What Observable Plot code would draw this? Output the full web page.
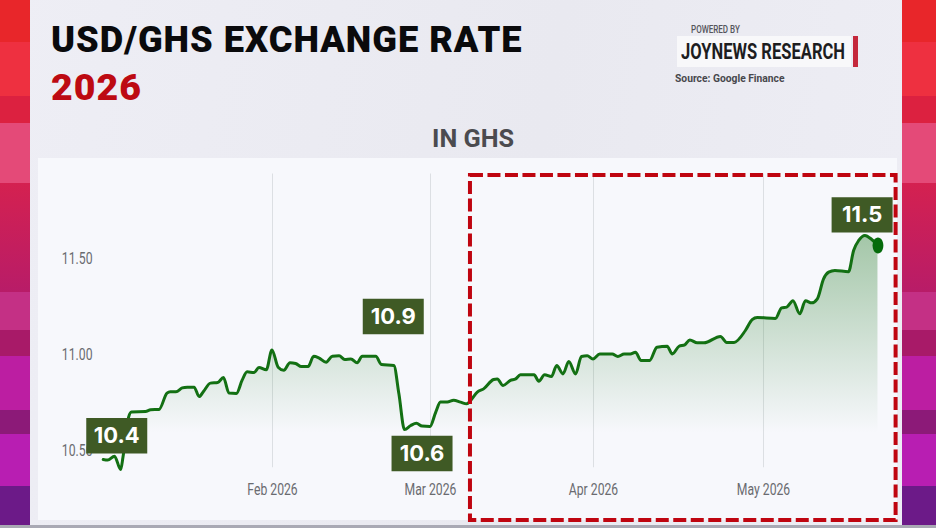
<!DOCTYPE html>
<html><head><meta charset="utf-8">
<script src="https://cdn.jsdelivr.net/npm/d3@7"></script>
<script src="https://cdn.jsdelivr.net/npm/@observablehq/plot@0.6"></script>
<style>
html,body{margin:0;padding:0;width:936px;height:528px;overflow:hidden;background:#ededf4;}
#stage{position:relative;width:936px;height:528px;overflow:hidden;background:linear-gradient(100deg,#eeeef5,#e9e9f0 55%,#eeeef5);}
#stage>div{position:absolute;}
.band{position:absolute;}
.fit{transform-origin:0 50%;white-space:nowrap;}
#plot svg{display:block;background:transparent;}
</style></head><body>
<div id="stage">
  <div id="bandL" style="left:0;top:0;width:30px;height:528px"></div>
  <div id="bandR" style="left:902px;top:0;width:34px;height:528px"></div>
  <div style="left:0;top:525px;width:936px;height:3px;background:#a9a9b4"></div>
  <div style="left:38px;top:158px;width:859px;height:362px;background:#f7f8fc"></div>
  <div class="fit" data-w="472" style="left:51px;top:17px;font:900 37.5px/44px Roboto,sans-serif;color:#0a0a0c;letter-spacing:1px">USD/GHS EXCHANGE RATE</div>
  <div class="fit" data-w="91" style="left:51px;top:65px;font:900 37.5px/44px Roboto,sans-serif;color:#bd0a12;letter-spacing:1px">2026</div>
  <div class="fit" data-w="82" style="left:432px;top:122px;font:700 26.5px/32px Roboto,sans-serif;color:#4b4b4f">IN GHS</div>
  <div class="fit" data-w="49" style="left:691px;top:24px;font:500 10px/11px Roboto,sans-serif;color:#55555c">POWERED BY</div>
  <div style="left:677px;top:36px;width:174px;height:31px;background:#f8f8fa"></div>
  <div style="left:853px;top:36px;width:5px;height:31px;background:#c4283c"></div>
  <div class="fit" data-w="164" style="left:681px;top:38px;font:700 21.5px/27px Roboto,sans-serif;color:#1d1d1f">JOYNEWS RESEARCH</div>
  <div class="fit" data-w="110" style="left:675px;top:73px;font:700 10px/12px Roboto,sans-serif;color:#47474c">Source: Google Finance</div>
  <div id="plot" style="left:0;top:0"></div>
</div>
<script>
// Day of 2026 (1 = Jan 1) and USD/GHS rate
const days = [2.0,2.8,4.0,5.1,5.5,6.5,7.0,9.5,10.4,11.9,13.3,13.9,14.9,16.0,16.9,18.1,19.0,19.8,21.0,22.3,23.3,24.3,25.6,26.6,27.5,28.7,29.6,30.9,31.9,33.0,34.0,35.1,36.1,37.1,38.3,39.3,40.2,41.5,42.6,43.8,44.8,45.9,47.0,47.9,50.3,51.3,53.5,54.4,55.4,56.5,57.5,58.5,59.9,61.0,61.9,63.2,64.4,65.7,66.9,67.6,68.9,70.1,72.0,72.7,73.8,75.2,76.2,77.1,79.7,80.6,81.7,83.0,84.0,85.2,86.3,87.6,88.7,89.8,90.9,92.1,94.3,95.3,96.4,97.5,98.4,99.4,100.9,102.2,104.0,104.9,106.1,107.1,108.0,109.3,110.5,113.4,114.5,115.8,117.8,119.0,119.9,123.1,124.2,125.1,126.2,127.4,128.4,129.5,130.5,131.6,132.5,133.6,136.0,136.9,137.8,138.9,140.1,141.2];
const rates = [10.453,10.450,10.470,10.401,10.465,10.674,10.701,10.703,10.712,10.714,10.799,10.806,10.806,10.826,10.830,10.830,10.781,10.809,10.851,10.854,10.880,10.799,10.797,10.865,10.910,10.906,10.932,10.920,11.024,10.934,10.918,10.957,10.953,10.937,10.937,10.991,10.983,10.960,10.991,10.993,10.974,10.977,10.957,10.991,10.991,10.948,10.943,10.795,10.609,10.630,10.642,10.627,10.625,10.700,10.752,10.753,10.762,10.752,10.743,10.760,10.804,10.821,10.870,10.873,10.839,10.865,10.873,10.894,10.894,10.861,10.894,10.885,10.943,10.899,10.964,10.899,10.990,10.993,10.977,11.003,11.003,10.990,11.003,11.003,11.012,10.969,10.969,11.038,11.043,11.003,11.043,11.050,11.076,11.061,11.061,11.094,11.063,11.063,11.125,11.182,11.193,11.188,11.243,11.247,11.280,11.212,11.280,11.269,11.290,11.394,11.429,11.438,11.431,11.542,11.594,11.620,11.599,11.568];
const xTicks = [32,60,91,121];
const xTickLabels = ["Feb 2026","Mar 2026","Apr 2026","May 2026"];
const yTicks = [10.5,11,11.5];
const calloutLabels = ["10.4","10.9","10.6","11.5"];
const calloutDays = [4.4,53.4,58.5,138.4];
const calloutRates = [10.577,11.198,10.484,11.727];
// Left and right decorative stripes
const stripeEnds = [42,96,123,183,292,330,356,410,434,486,525];
const stripeColors = ["#e8262a","#ee3040","#dc2140","#e44a78","linear-gradient(#d42150,#b81c68)","#c43085","#a81a68","#bc1ea2","#8c1a78","#b81eb2","#6c1a88"];

function stripes(el){
  let y0=0; stripeEnds.forEach((y,i)=>{
    const d=document.createElement("div"); d.className="band";
    d.style.cssText=`left:0;right:0;top:${y0}px;height:${y-y0}px;background:${stripeColors[i]}`;
    el.appendChild(d); y0=y;
  });
}
stripes(document.getElementById("bandL"));
stripes(document.getElementById("bandR"));

const series = days.map((d,i)=>({day:d,rate:rates[i]}));
const last = series[series.length-1];
const callouts = calloutLabels.map((t,i)=>({label:t,day:calloutDays[i],rate:calloutRates[i]}));
const areaBase = 10.59;
const gridTop = 11.94, gridBottom = 10.41, boxTop = 11.932, boxBottom = 10.135, boxLeft = 67.6, boxRight = 144.4;

const boxSymbol = {draw(c){c.rect(-30.5,-17.7,61,35.4);}};
const ovalSymbol = {draw(c){
  const a=5.4,b=8,k=.5523;
  c.moveTo(a,0);
  c.bezierCurveTo(a,k*b,k*a,b,0,b);c.bezierCurveTo(-k*a,b,-a,k*b,-a,0);
  c.bezierCurveTo(-a,-k*b,-k*a,-b,0,-b);c.bezierCurveTo(k*a,-b,a,-k*b,a,0);c.closePath();
}};
const gradient = () => {
  const s=d3.create("svg:defs");
  const g=s.append("linearGradient").attr("id","fade").attr("x1",0).attr("x2",0).attr("y1",0).attr("y2",1);
  g.append("stop").attr("offset","0%").attr("stop-color","#0f6e12").attr("stop-opacity",.36);
  g.append("stop").attr("offset","100%").attr("stop-color","#0f6e12").attr("stop-opacity",0);
  return s.node();
};
const axisFont = "Roboto,sans-serif";

const chart = Plot.plot({
  width:936,height:528,
  marginLeft:95,marginBottom:50,marginTop:0,marginRight:0,
  style:{background:"transparent",overflow:"visible"},
  x:{type:"linear",domain:xTicks,range:[272,430,593,763]},
  y:{type:"linear",domain:[10.5,11.5],range:[450,258]},
  marks:[
    gradient,
    Plot.ruleX(xTicks,{x:d=>d,y1:gridBottom,y2:gridTop,stroke:"#dcdfe3",strokeWidth:1}),
    Plot.axisX({ticks:xTicks,tickSize:0,tickPadding:5,tickFormat:d=>xTickLabels[xTicks.indexOf(d)],label:null,fontSize:16.5,fontFamily:axisFont,fill:"#6a6b70"}),
    Plot.axisY({ticks:yTicks,tickSize:0,tickPadding:3,tickFormat:d3.format(".2f"),label:null,fontSize:16.5,fontFamily:axisFont,fill:"#6a6b70"}),
    Plot.areaY(series,{x:"day",y1:areaBase,y2:d=>Math.max(d.rate,areaBase),fill:"url(#fade)",curve:"monotone-x"}),
    Plot.lineY(series,{x:"day",y:"rate",stroke:"#137013",strokeWidth:3,curve:"monotone-x"}),
    Plot.dot([last],{x:"day",y:"rate",symbol:ovalSymbol,r:6,fill:"#056b0b",stroke:null}),
    Plot.rect([0],{x1:boxLeft,x2:boxRight,y1:boxBottom,y2:boxTop,fill:"none",stroke:"#bf0510",strokeWidth:4,strokeDasharray:"13 4.5"}),
    Plot.dot(callouts,{x:"day",y:"rate",symbol:boxSymbol,r:6,fill:"#3f5a25",stroke:null}),
    Plot.text(callouts,{x:"day",y:"rate",text:"label",fill:"#fff",fontSize:22,fontWeight:700,fontFamily:"Inter,sans-serif"})
  ]
});
document.getElementById("plot").appendChild(chart);

// Narrow the axis labels to the reference's condensed proportions
chart.querySelectorAll('g[aria-label="x-axis tick label"] text, g[aria-label="y-axis tick label"] text').forEach(t=>{
  t.setAttribute("textLength",(t.getComputedTextLength()*0.74).toFixed(1));
  t.setAttribute("lengthAdjust","spacingAndGlyphs");
});
// Fit HTML text to its measured width
document.querySelectorAll(".fit").forEach(el=>{
  el.style.transform=`scaleX(${(+el.dataset.w)/el.offsetWidth})`;
});
</script>
</body></html>
